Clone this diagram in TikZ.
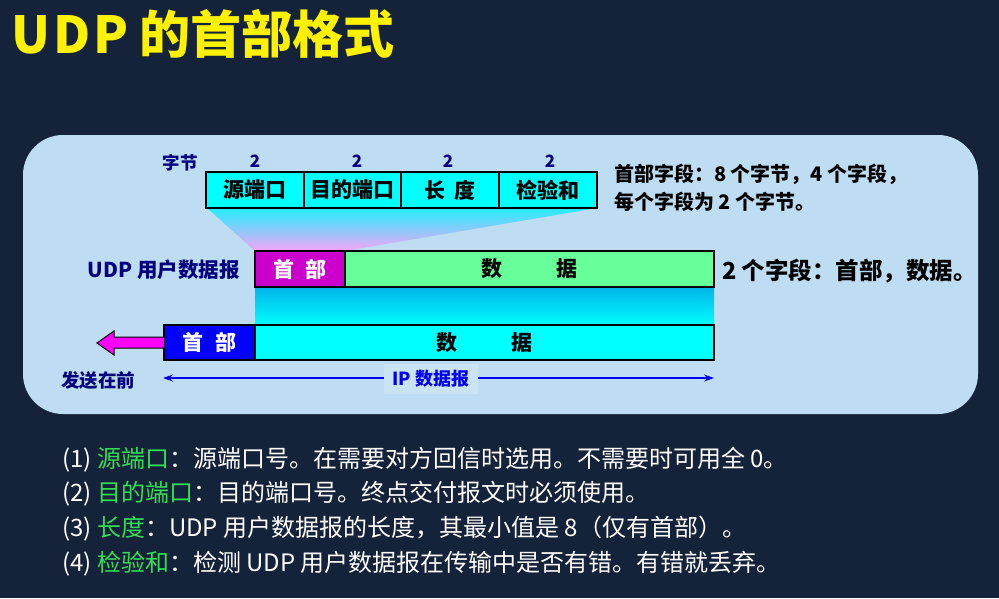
\documentclass[tikz,border=0pt]{standalone}
\usepackage{fontspec}
\setmainfont{Noto Sans CJK SC}
\usetikzlibrary{arrows.meta}
\definecolor{bg}{HTML}{15233A}
\definecolor{panel}{HTML}{BEDDF2}
\definecolor{navy}{HTML}{00007F}
\definecolor{fieldcyan}{HTML}{00FFFF}
\definecolor{hdrmag}{HTML}{CC00CC}
\definecolor{datagreen}{HTML}{66FF99}
\definecolor{hdrblue}{HTML}{0000FF}
\definecolor{termgreen}{HTML}{33DD55}
\definecolor{arrowmag}{HTML}{FF00FF}
\definecolor{ipblue}{HTML}{0000EE}
\tikzset{
  fieldbox/.style={draw=black, line width=1.5pt, fill=fieldcyan, inner sep=0pt, outer sep=0pt,
    minimum height=36pt, anchor=north west, font=\fontsize{21}{21}\selectfont\bfseries},
  bytelbl/.style={text=navy, font=\fontsize{17}{17}\selectfont\bfseries, inner sep=0pt},
  navylbl/.style={text=navy, font=\fontsize{17}{17}\selectfont\bfseries, inner sep=0pt},
  blacklbl/.style={text=black, font=\fontsize{20}{20}\selectfont\bfseries, inner sep=0pt, anchor=west},
  listline/.style={text=white, font=\fontsize{24}{24}\selectfont, inner sep=0pt, anchor=west},
}
\newcommand{\term}[1]{\textcolor{termgreen}{#1}}
\begin{document}
\begin{tikzpicture}[x=1pt,y=-1pt]
\fill[bg] (0,0) rectangle (999,598);
\useasboundingbox (0,0) rectangle (999,598);
% title
\node[anchor=west, inner sep=0pt, text=yellow, font=\fontsize{51}{51}\selectfont\bfseries] (title) at (11,34) {U\kern3ptD\kern3ptP 的首部格式};
% panel
\fill[panel, rounded corners=40pt] (23,135) rectangle (978,414);
% trapezoid shading
\shade[top color={rgb,255:red,34;green,238;blue,255}, bottom color={rgb,255:red,245;green,165;blue,245}]
  (207,208) -- (597,208) -- (345,251) -- (255,251) -- cycle;
% gradient below UDP datagram
\shade[top color={rgb,255:red,0;green,180;blue,232}, bottom color=fieldcyan]
  (255,287) rectangle (714,325);
% header fields
\node[fieldbox, minimum width=98pt] (src) at (206,172) {源端口};
\node[fieldbox, minimum width=97pt] (dst) at (src.north east) {目的端口};
\node[fieldbox, minimum width=98pt] (len) at (dst.north east) {长\ \,度};
\node[fieldbox, minimum width=98pt] (chk) at (len.north east) {检验和};
\node[navylbl, font=\fontsize{17.5}{17.5}\selectfont\bfseries] (zj) at (180,163) {字节};
\node[bytelbl] (b1) at (255,161) {2};
\node[bytelbl] (b2) at (357,161) {2};
\node[bytelbl] (b3) at (448,161) {2};
\node[bytelbl] (b4) at (550,161) {2};
\node[blacklbl] (note1) at (614,174) {首部字段：8 个字节，4 个字段，};
\node[blacklbl] (note2) at (614,202) {每个字段为 2 个字节。};
% UDP datagram
\node[fieldbox, fill=hdrmag, text=white, minimum width=90pt, minimum height=36pt] (uhdr) at (255,251) {首\hspace{0.55em}部};
\node[fieldbox, fill=datagreen, minimum width=369pt, minimum height=36pt] (udata) at (uhdr.north east) {数\hspace{2.55em}据};
\node[navylbl, anchor=east, font=\fontsize{20.5}{20.5}\selectfont\bfseries] (udplbl) at (240,270) {UDP 用户数据报};
\node[blacklbl, font=\fontsize{23.5}{23.5}\selectfont\bfseries] (note3) at (722,271) {2 个字段：首部，数据。};
% IP datagram
\node[fieldbox, fill=hdrblue, text=white, minimum width=91pt, minimum height=35pt] (ihdr) at (164,325) {首\hspace{0.55em}部};
\node[fieldbox, fill=fieldcyan, minimum width=459pt, minimum height=35pt] (idata) at (ihdr.north east) {数\hspace{2.55em}据};
% send-first arrow
\coordinate (tip) at (97,343);
\filldraw[fill=arrowmag, draw=black, line width=1pt]
  (ihdr.west |- 0,337) -- (114,337) -- (114,331) -- (tip) -- (114,355) -- (114,348) -- (ihdr.west |- 0,348);
\node[navylbl, font=\fontsize{18.5}{18.5}\selectfont\bfseries] (fs) at (98,380) {发送在前};
% IP datagram span arrow
\coordinate (ipl) at (163,378);
\coordinate (ipr) at (714,378);
\draw[ipblue, line width=1.5pt, {Stealth[length=10pt,width=7pt]}-{Stealth[length=10pt,width=7pt]}] (ipl) -- (ipr);
\node[fill={rgb,255:red,200;green,228;blue,246}, text=ipblue, inner xsep=9pt, inner ysep=6pt, font=\fontsize{18}{18}\selectfont\bfseries] (iplbl) at (431,379) {IP 数据报};
% list
\node[listline] (l1) at (62,460) {(1) \term{源端口}：源端口号。在需要对方回信时选用。不需要时可用全 0。};
\node[listline] (l2) at (62,494) {(2) \term{目的端口}：目的端口号。终点交付报文时必须使用。};
\node[listline] (l3) at (62,529) {(3) \term{长度}：UDP 用户数据报的长度，其最小值是 8（仅有首部）。};
\node[listline] (l4) at (62,564) {(4) \term{检验和}：检测 UDP 用户数据报在传输中是否有错。有错就丢弃。};
\end{tikzpicture}
\end{document}
